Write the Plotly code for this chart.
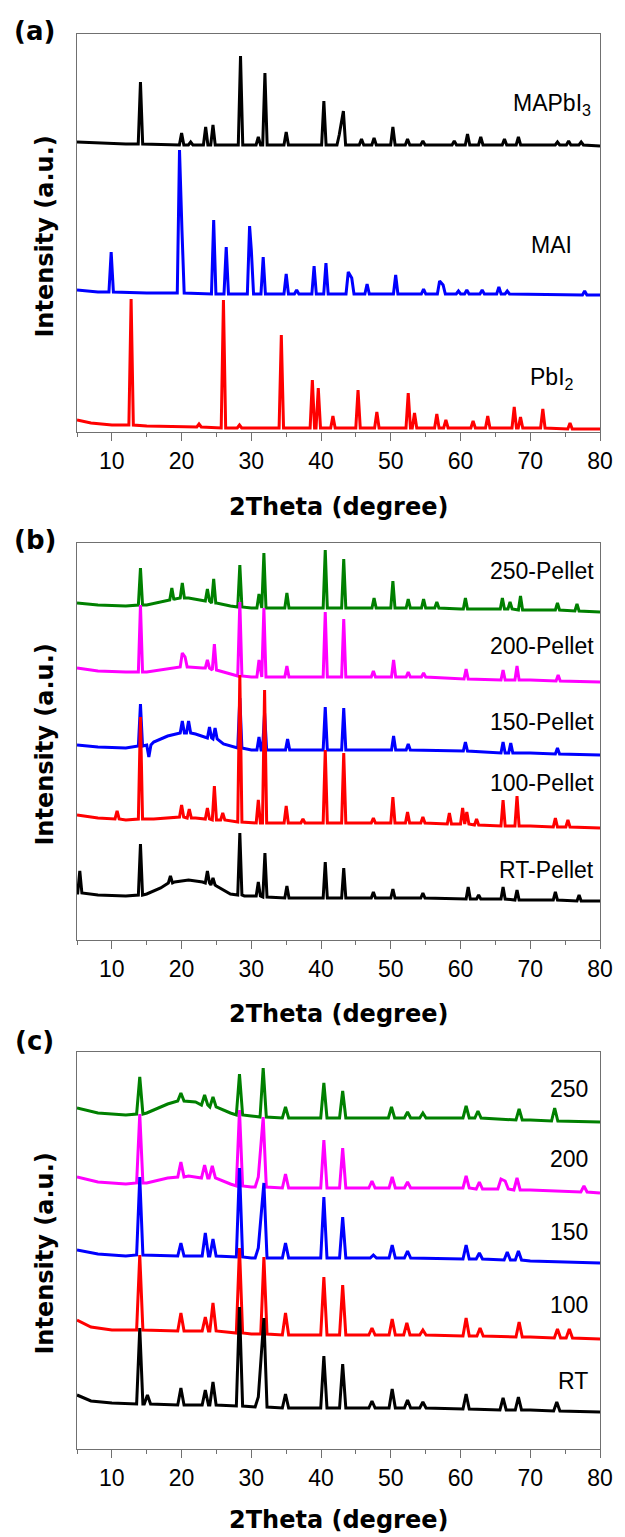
import plotly.graph_objects as go

# ---------------- DATA (2Theta in degree, intensity in a.u.) ----------------
# Panel (a)
mapbi3_bg_x = [5, 8, 12, 20, 40, 60, 80]
mapbi3_bg_y = [3, 2, 1, 0, 0, 0, -1]
mapbi3_pk_x = [14.1, 20.0, 21.3, 23.45, 24.5, 28.45, 31.0, 31.95, 35.0, 40.4, 42.6, 43.2, 45.8, 47.6,
               50.3, 52.4, 54.6, 59.1, 61.0, 62.9, 66.3, 68.3, 73.9, 75.5, 77.3]
mapbi3_pk_top = [63, 12, 3, 18, 20, 89, 8, 72, 13, 44, 10, 34, 6, 7, 18, 6, 4, 4, 11, 8, 6, 8, 3, 4, 3]
mapbi3_pk_base = [1, 0, 0, 0, 0, 0, 0, 0, 0, 0, 0, 0, 0, 0, 0, 0, 0, 0, 0, 0, 0, 0, 0, 0, 0]

mai_bg_x = [5, 8, 15, 25, 40, 60, 80]
mai_bg_y = [4, 2, 1, 0, 0, 0, -1]
mai_pk_x = [9.9, 19.7, 20.05, 24.6, 26.4, 29.75, 30.0, 31.7, 35.0, 36.5, 39.0, 40.7, 43.9, 44.4, 46.6,
            50.7, 54.7, 57.0, 57.5, 59.7, 60.9, 63.1, 65.5, 66.7, 77.8]
mai_pk_top = [42, 144, 64, 74, 47, 68, 44, 37, 20, 4, 28, 31, 22, 16, 10, 19, 5, 13, 9, 3, 4, 4, 7, 3, 3]
mai_pk_base = [2, 1, 1, 0, 0, 0, 0, 0, 0, 0, 0, 0, 0, 0, 0, 0, 0, 0, 0, 0, 0, 0, 0, 0, -1]

pbi2_bg_x = [5, 7, 10, 15, 20, 30, 50, 80]
pbi2_bg_y = [8, 5, 3, 2, 1, 0, 0, -1]
pbi2_pk_x = [12.76, 22.5, 26.0, 28.3, 34.3, 38.75, 39.6, 41.7, 45.3, 48.0, 52.5, 53.4, 56.6, 57.9,
             61.8, 63.9, 67.7, 68.6, 71.8, 75.7]
pbi2_pk_top = [129, 4, 128, 3, 93, 48, 40, 12, 38, 16, 35, 15, 14, 8, 7, 12, 21, 11, 19, 5]
pbi2_pk_base = [3, 1, 0, 0, 0, 0, 0, 0, 0, 0, 0, 0, 0, 0, 0, 0, 0, 0, 0, -1]

# Panel (b)
p250_bg_x = [5, 8, 12, 15, 17, 19, 21, 23, 25, 27, 30, 40, 60, 70, 80]
p250_bg_y = [5, 3, 2, 3, 6, 9, 10, 8, 5, 2, 0, 0, -1, -2, -4]
p250_pk_x = [14.1, 18.6, 20.1, 23.7, 24.6, 28.35, 31.1, 31.8, 35.1, 40.6, 43.25, 47.6, 50.3, 52.5,
             54.7, 56.6, 60.7, 66.0, 67.1, 68.6, 73.9, 76.7]
p250_pk_top = [40, 20, 25, 19, 29, 43, 14, 55, 15, 58, 49, 10, 27, 9, 9, 6, 10, 10, 6, 12, 5, 4]
p250_pk_base = [3, 8, 10, 7, 5, 1, 0, 0, 0, 0, 0, 0, 0, 0, 0, 0, -1, -1, -1, -2, -2, -3]

p200_bg_x = [5, 8, 12, 15, 17, 19, 21, 23, 25, 27, 30, 50, 70, 80]
p200_bg_y = [9, 6, 5, 5, 7, 9, 10, 9, 7, 3, 0, 0, -3, -5]
p200_pk_x = [14.1, 20.1, 20.5, 23.7, 24.7, 28.35, 31.1, 31.8, 35.1, 40.6, 43.25, 47.5, 50.4, 52.5,
             54.7, 60.8, 66.1, 68.1, 74.0]
p200_pk_top = [72, 24, 20, 17, 33, 75, 17, 69, 11, 65, 58, 6, 17, 5, 4, 8, 7, 11, 2]
p200_pk_base = [5, 10, 10, 9, 7, 1, 0, 0, 0, 0, 0, 0, 0, 0, 0, -2, -3, -3, -4]

p150_bg_x = [5, 8, 12, 14, 16, 18, 20, 22, 24, 26, 28, 30, 50, 70, 80]
p150_bg_y = [5, 3, 2, 4, 8, 14, 17, 16, 12, 6, 2, 0, 0, -3, -5]
p150_pk_x = [14.1, 15.3, 20.1, 21.0, 24.0, 24.8, 28.35, 31.1, 31.9, 35.2, 40.6, 43.25, 50.4, 52.5,
             60.7, 66.1, 67.2, 73.9]
p150_pk_top = [46, -7, 29, 29, 23, 22, 52, 13, 37, 11, 43, 42, 14, 6, 8, 8, 7, 2]
p150_pk_base = [4, 5, 17, 17, 12, 11, 2, 0, 0, 0, 0, 0, 0, 0, -1, -3, -3, -4]

p100_bg_x = [5, 8, 12, 16, 20, 22, 25, 30, 50, 70, 80]
p100_bg_y = [8, 5, 3, 4, 6, 5, 3, 0, 0, -3, -5]
p100_pk_x = [10.75, 14.1, 20.0, 21.1, 23.7, 24.7, 25.9, 28.35, 31.0, 31.9, 35.0, 37.4, 40.6, 43.25,
             47.5, 50.3, 52.4, 54.6, 58.4, 60.3, 60.9, 62.3, 66.1, 68.1, 73.6, 75.4]
p100_pk_top = [12, 106, 18, 14, 15, 37, 10, 148, 23, 133, 17, 4, 73, 70, 5, 26, 11, 6, 10, 15, 11, 4,
               23, 27, 5, 3]
p100_pk_base = [4, 4, 6, 5, 4, 3, 3, 1, 0, 0, 0, 0, 0, 0, 0, 0, 0, 0, -1, -1, -1, -2, -3, -3, -4, -4]

prt_bg_x = [5, 8, 12, 15, 17, 19, 21, 23, 25, 27, 29, 35, 50, 70, 80]
prt_bg_y = [5, 3, 2, 4, 10, 16, 18, 16, 12, 4, 2, 0, 0, -2, -3]
prt_pk_x = [5.4, 14.1, 18.4, 23.7, 24.5, 28.35, 31.0, 31.95, 35.1, 40.6, 43.25, 47.5, 50.3, 54.6,
            61.1, 62.6, 66.1, 68.1, 73.6, 77.0]
prt_pk_top = [27, 54, 22, 27, 20, 65, 16, 45, 12, 36, 30, 6, 9, 5, 11, 3, 11, 8, 6, 3]
prt_pk_base = [5, 3, 15, 15, 13, 3, 2, 1, 0, 0, 0, 0, 0, 0, -1, -1, -1, -2, -2, -3]

# Panel (c)
c250_bg_x = [5, 8, 12, 15, 18, 20, 22, 24, 27, 30, 40, 60, 70, 80]
c250_bg_y = [10, 5, 3, 5, 14, 18, 16, 12, 5, 2, 0, 0, -2, -4]
c250_pk_x = [14.0, 19.9, 23.3, 24.5, 28.3, 31.7, 34.9, 40.4, 43.1, 50.1, 52.4, 54.6, 60.8, 62.5,
             68.4, 73.5]
c250_pk_top = [41, 25, 23, 21, 44, 50, 11, 35, 27, 11, 6, 5, 12, 7, 9, 10]
c250_pk_base = [4, 17, 13, 11, 3, 1, 0, 0, 0, 0, 0, 0, 0, 0, -2, -3]

c200_bg_x = [5, 8, 12, 15, 18, 21, 24, 27, 30, 40, 60, 70, 80]
c200_bg_y = [11, 6, 4, 5, 10, 12, 10, 4, 1, 0, 0, -2, -5]
c200_pk_x = [14.0, 19.9, 23.3, 24.4, 28.3, 31.0, 31.7, 34.9, 40.4, 43.1, 47.3, 50.2, 52.4, 60.8,
             62.7, 65.8, 66.4, 68.1, 77.7]
c200_pk_top = [74, 26, 23, 22, 78, 11, 71, 14, 48, 40, 7, 11, 6, 12, 6, 9, 7, 10, 2]
c200_pk_base = [5, 11, 10, 10, 2, 1, 1, 0, 0, 0, 0, 0, 0, 0, -1, -1, -1, -2, -4]

c150_bg_x = [5, 8, 12, 20, 30, 50, 70, 80]
c150_bg_y = [8, 4, 2, 2, 0, 0, -3, -5]
c150_pk_x = [14.0, 19.9, 23.4, 24.5, 28.3, 31.0, 31.8, 34.9, 40.4, 43.1, 47.5, 50.2, 52.4, 60.8,
             62.7, 66.7, 68.3]
c150_pk_top = [81, 15, 25, 19, 90, 10, 75, 15, 61, 41, 3, 13, 7, 13, 5, 6, 7]
c150_pk_base = [3, 2, 2, 2, 1, 0, 0, 0, 0, 0, 0, 0, 0, -1, -1, -2, -2]

c100_bg_x = [5, 7, 10, 20, 30, 50, 70, 80]
c100_bg_y = [15, 8, 5, 4, 1, 0, -2, -4]
c100_pk_x = [14.0, 19.9, 23.4, 24.5, 28.3, 31.8, 34.9, 40.4, 43.1, 47.3, 50.2, 52.3, 54.6, 60.8,
             62.8, 68.4, 73.9, 75.6]
c100_pk_top = [80, 22, 18, 32, 87, 78, 22, 58, 50, 7, 16, 12, 5, 17, 7, 13, 6, 6]
c100_pk_base = [5, 4, 4, 4, 2, 1, 0, 0, 0, 0, 0, 0, 0, -1, -1, -2, -3, -3]

crt_bg_x = [5, 7, 10, 20, 30, 50, 70, 80]
crt_bg_y = [13, 7, 5, 3, 1, 0, -2, -4]
crt_pk_x = [14.0, 15.1, 19.9, 23.4, 24.5, 28.3, 31.0, 31.8, 34.9, 40.4, 43.1, 47.3, 50.2, 52.4,
            54.6, 60.8, 66.1, 68.3, 73.8]
crt_pk_top = [80, 13, 20, 18, 26, 101, 11, 90, 14, 52, 44, 7, 19, 8, 6, 14, 10, 11, 6]
crt_pk_base = [4, 4, 3, 3, 3, 2, 1, 1, 0, 0, 0, 0, 0, 0, 0, -1, -2, -2, -3]

# stacking offsets (a.u.)
offsets_a = [287, 138, 4]
offsets_b = [332, 263, 190, 117, 42]
offsets_c = [331, 261, 191, 114, 41]

labels_a = ["MAPbI<sub>3</sub>", "MAI", "PbI<sub>2</sub>"]
labels_b = ["250-Pellet", "200-Pellet", "150-Pellet", "100-Pellet", "RT-Pellet"]
labels_c = ["250", "200", "150", "100", "RT"]
tick_vals = [10, 20, 30, 40, 50, 60, 70, 80]

# ---------------- LAYOUT GEOMETRY ----------------
W, H = 625, 1537
ML, MR, MT, MB = 77, 16, 34, 88
PW, PH = W - ML - MR, H - MT - MB


def px_x(x):
    return (x - ML) / PW


def px_y(y):
    return (H - MB - y) / PH


def build(bg_x, bg_y, pk_x, pk_top, pk_base, w, off):
    ranges = [(p - w, p + w) for p in pk_x]
    pts = []
    for x, y in zip(bg_x, bg_y):
        if not any(a < x < b for a, b in ranges):
            pts.append((x, y))
    for i, p in enumerate(pk_x):
        pts.append((p, pk_top[i]))
        for e in (p - w, p + w):
            if not any(a < e < b for j, (a, b) in enumerate(ranges) if j != i):
                pts.append((e, pk_base[i]))
    pts.sort(key=lambda t: t[0])
    return [p[0] for p in pts], [p[1] + off for p in pts]


BLACK, BLUE, RED, MAG, GREEN = "#000000", "#0000FF", "#FF0000", "#FF00FF", "#008000"

panel_a = [
    (mapbi3_bg_x, mapbi3_bg_y, mapbi3_pk_x, mapbi3_pk_top, mapbi3_pk_base, BLACK),
    (mai_bg_x, mai_bg_y, mai_pk_x, mai_pk_top, mai_pk_base, BLUE),
    (pbi2_bg_x, pbi2_bg_y, pbi2_pk_x, pbi2_pk_top, pbi2_pk_base, RED),
]
panel_b = [
    (p250_bg_x, p250_bg_y, p250_pk_x, p250_pk_top, p250_pk_base, GREEN),
    (p200_bg_x, p200_bg_y, p200_pk_x, p200_pk_top, p200_pk_base, MAG),
    (p150_bg_x, p150_bg_y, p150_pk_x, p150_pk_top, p150_pk_base, BLUE),
    (p100_bg_x, p100_bg_y, p100_pk_x, p100_pk_top, p100_pk_base, RED),
    (prt_bg_x, prt_bg_y, prt_pk_x, prt_pk_top, prt_pk_base, BLACK),
]
panel_c = [
    (c250_bg_x, c250_bg_y, c250_pk_x, c250_pk_top, c250_pk_base, GREEN),
    (c200_bg_x, c200_bg_y, c200_pk_x, c200_pk_top, c200_pk_base, MAG),
    (c150_bg_x, c150_bg_y, c150_pk_x, c150_pk_top, c150_pk_base, BLUE),
    (c100_bg_x, c100_bg_y, c100_pk_x, c100_pk_top, c100_pk_base, RED),
    (crt_bg_x, crt_bg_y, crt_pk_x, crt_pk_top, crt_pk_base, BLACK),
]

fig = go.Figure()
for panel, offs, ax, w in ((panel_a, offsets_a, "", 0.32), (panel_b, offsets_b, "2", 0.3),
                           (panel_c, offsets_c, "3", 0.45)):
    for (bx, by, kx, kt, kb, col), off in zip(panel, offs):
        xs, ys = build(bx, by, kx, kt, kb, w, off)
        fig.add_trace(go.Scatter(x=xs, y=ys, mode="lines", line=dict(color=col, width=3),
                                 xaxis="x" + ax, yaxis="y" + ax, showlegend=False,
                                 hoverinfo="skip"))

AX_COL = "#707070"
REG = "Liberation Sans, Arial, sans-serif"
BOLD = "DejaVu Sans, Arial, sans-serif"


def xaxis(anchor):
    return dict(range=[5, 80], tickvals=tick_vals, ticks="outside", ticklen=8, tickwidth=1,
                tickcolor=AX_COL, showline=True, linecolor=AX_COL, linewidth=1, mirror=True,
                showgrid=False, zeroline=False, anchor=anchor,
                tickfont=dict(family=REG, size=23, color="#000000"),
                minor=dict(dtick=5, tick0=5, ticks="outside", ticklen=4, tickcolor=AX_COL))


def yaxis(dom, top, anchor):
    return dict(domain=dom, range=[0, top], showline=True, linecolor=AX_COL, linewidth=1,
                mirror=True, showgrid=False, zeroline=False, showticklabels=False, ticks="",
                anchor=anchor)


ann = []
# panel letters
for txt, y in (("(a)", 31), ("(b)", 540), ("(c)", 1041)):
    ann.append(dict(text="<b>" + txt + "</b>", x=px_x(34), y=px_y(y), xref="paper", yref="paper",
                    xanchor="center", yanchor="middle", showarrow=False,
                    font=dict(family=BOLD, size=26, color="#000000")))
# x titles
for y in (507, 1014, 1520):
    ann.append(dict(text="<b>2Theta (degree)</b>", x=px_x(343), y=px_y(y), xref="paper",
                    yref="paper", xanchor="center", yanchor="middle", showarrow=False,
                    font=dict(family=BOLD, size=24, color="#000000")))
# y titles
for y in (237, 745, 1254):
    ann.append(dict(text="<b>Intensity (a.u.)</b>", x=px_x(44), y=px_y(y), xref="paper",
                    yref="paper", xanchor="center", yanchor="middle", textangle=-90,
                    showarrow=False, font=dict(family=BOLD, size=24, color="#000000")))
# series labels
for txt, y in zip(labels_a, (104, 245, 378)):
    ann.append(dict(text=txt, x=px_x(560), y=px_y(y), xref="paper", yref="paper",
                    xanchor="center", yanchor="middle", showarrow=False,
                    font=dict(family=REG, size=23, color="#000000")))
for txt, y in zip(labels_b, (571, 646, 722, 783, 870)):
    ann.append(dict(text=txt, x=px_x(605), y=px_y(y), xref="paper", yref="paper",
                    xanchor="right", yanchor="middle", showarrow=False,
                    font=dict(family=REG, size=23, color="#000000")))
for txt, y in zip(labels_c, (1089, 1159, 1232, 1305, 1381)):
    ann.append(dict(text=txt, x=px_x(599), y=px_y(y), xref="paper", yref="paper",
                    xanchor="right", yanchor="middle", showarrow=False,
                    font=dict(family=REG, size=23, color="#000000")))

fig.update_layout(
    width=W, height=H, margin=dict(l=ML, r=MR, t=MT, b=MB, pad=0),
    paper_bgcolor="white", plot_bgcolor="white", showlegend=False,
    xaxis=xaxis("y"), xaxis2=xaxis("y2"), xaxis3=xaxis("y3"),
    yaxis=yaxis([px_y(432), px_y(34)], 398, "x"),
    yaxis2=yaxis([px_y(940), px_y(543)], 397, "x2"),
    yaxis3=yaxis([px_y(1449), px_y(1052)], 397, "x3"),
    annotations=ann,
)

fig.write_html("out.html")
